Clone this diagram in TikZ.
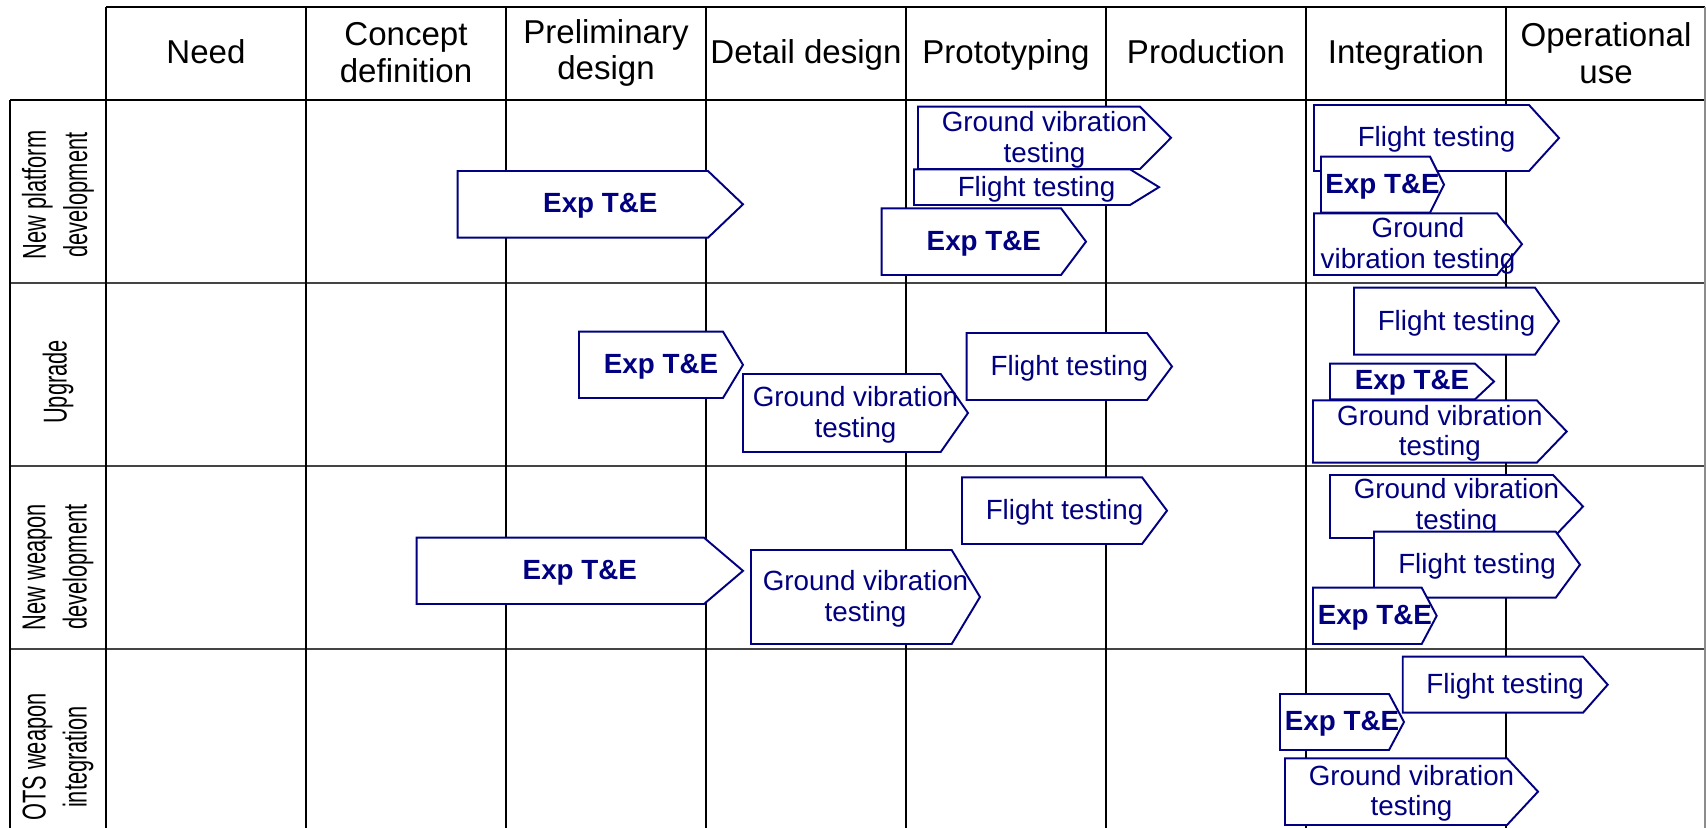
\documentclass[tikz,border=0pt]{standalone}
\usepackage{fontspec}
\setmainfont{Liberation Sans}
\newfontfamily\narrowfam[FakeStretch=0.66]{Liberation Sans}
\usepackage{xcolor}
\usepackage{tikz}
\definecolor{navy}{HTML}{000080}
\definecolor{rowgray}{HTML}{444444}
\newcommand\hdfont{\fontsize{9.4}{10.5}\selectfont}
\newcommand\bxfont{\fontsize{7.9}{8.7}\selectfont}
\newcommand\rlfont{\narrowfam\fontsize{9.4}{11.7}\selectfont}
\tikzset{
  grid/.style={draw=black, line width=0.8pt},
  rowline/.style={draw=rowgray, line width=0.75pt},
  edgeline/.style={draw=black!45, line width=0.5pt},
  tebox/.style={draw=navy, fill=white, line width=0.55pt, line join=miter},
  head/.style={font=\hdfont, align=center, text=black, inner sep=0pt},
  rowlab/.style={font=\rlfont, align=center, rotate=90, inner sep=0pt},
  boxlab/.style={font=\bxfont, text=navy, align=center, inner sep=0pt, yshift=-0.5pt},
  boxlabb/.style={boxlab, font=\bxfont\bfseries}
}
\begin{document}
\begin{tikzpicture}[x=0.01cm, y=-0.01cm]
  \useasboundingbox (0,0) rectangle (1706,828);

  % table lines
  \draw[grid] (106,7) -- (1705,7);
  \draw[grid] (10,100) -- (1705,100);
  \foreach \y in {283,466,649}
    \draw[rowline] (10,\y) -- (1705,\y);
  \draw[grid] (10,100) -- (10,828);
  \foreach \x in {106,306,506,706,906,1106,1306,1506}
    \draw[grid] (\x,7) -- (\x,828);
  \draw[edgeline] (1705,7) -- (1705,828);

  % phase headings
  \node[head] (hneed) at (206,56.5) {\strut Need};
  \node[head] (hconc) at (406,53) {Concept\\definition};
  \node[head] (hprel) at (606,53) {Preliminary\\design};
  \node[head] (hdet)  at (806,56.5) {\strut Detail design};
  \node[head] (hprot) at (1006,56.5) {\strut Prototyping};
  \node[head] (hprod) at (1206,56.5) {\strut Production};
  \node[head] (hint)  at (1406,56.5) {\strut Integration};
  \node[head] (hops)  at (1606,53) {Operational\\use};

  % programme types
  \node[rowlab] (rnew) at (58,195) {New platform\\development};
  \node[rowlab] (rupg) at (58,382) {Upgrade};
  \node[rowlab] (rwpn) at (58,567) {New weapon\\development};
  \node[rowlab] (rots) at (58,757) {OTS weapon\\integration};

  % new platform development
  \draw[tebox] (457.7,171) -- (708,171) -- (743,204.35) -- (708,237.7) -- (457.7,237.7) -- cycle;
  \node[boxlabb] (npexp) at (600.35,204.35) {Exp T\&E};
  \draw[tebox] (918,106.7) -- (1140,106.7) -- (1171,137.85) -- (1140,169) -- (918,169) -- cycle;
  \node[boxlab] (npgvt) at (1044.5,137.85) {Ground vibration\\testing};
  \draw[tebox] (914,169.3) -- (1130,169.3) -- (1159,187.15) -- (1130,205) -- (914,205) -- cycle;
  \node[boxlab] (npft) at (1036.5,187.15) {Flight testing};
  \draw[tebox] (881.7,208.3) -- (1061,208.3) -- (1086,241.65) -- (1061,275) -- (881.7,275) -- cycle;
  \node[boxlabb] (npexpb) at (983.85,241.65) {Exp T\&E};
  \draw[tebox] (1314,105) -- (1529,105) -- (1559,138) -- (1529,171) -- (1314,171) -- cycle;
  \node[boxlab] (npftb) at (1436.5,138) {Flight testing};
  \draw[tebox] (1321,156.7) -- (1430,156.7) -- (1444,184.7) -- (1430,212.7) -- (1321,212.7) -- cycle;
  \node[boxlabb] (npexpc) at (1382.5,184.7) {Exp T\&E};
  \draw[tebox] (1314,213.3) -- (1497,213.3) -- (1522,244.15) -- (1497,275) -- (1314,275) -- cycle;
  \node[boxlab] (npgvtb) at (1418,244.15) {Ground\\vibration testing};

  % upgrade
  \draw[tebox] (579,331.7) -- (723,331.7) -- (743,364.85) -- (723,398) -- (579,398) -- cycle;
  \node[boxlabb] (upexp) at (661,364.85) {Exp T\&E};
  \draw[tebox] (743,374) -- (940.7,374) -- (968,413) -- (940.7,452) -- (743,452) -- cycle;
  \node[boxlab] (upgvt) at (855.5,413) {Ground vibration\\testing};
  \draw[tebox] (966.7,333) -- (1147,333) -- (1172,366.5) -- (1147,400) -- (966.7,400) -- cycle;
  \node[boxlab] (upft) at (1069.35,366.5) {Flight testing};
  \draw[tebox] (1354,287.7) -- (1535,287.7) -- (1559,321.2) -- (1535,354.7) -- (1354,354.7) -- cycle;
  \node[boxlab] (upftb) at (1456.5,321.2) {Flight testing};
  \draw[tebox] (1330,363.7) -- (1475,363.7) -- (1494,381.5) -- (1475,399.3) -- (1330,399.3) -- cycle;
  \node[boxlabb] (upexpb) at (1412,381.5) {Exp T\&E};
  \draw[tebox] (1313,400.3) -- (1536.7,400.3) -- (1566.7,431.5) -- (1536.7,462.7) -- (1313,462.7) -- cycle;
  \node[boxlab] (upgvtb) at (1439.85,431.5) {Ground vibration\\testing};

  % new weapon development
  \draw[tebox] (416.7,537.7) -- (704,537.7) -- (743,570.85) -- (704,604) -- (416.7,604) -- cycle;
  \node[boxlabb] (nwexp) at (579.85,570.85) {Exp T\&E};
  \draw[tebox] (751,550) -- (951.7,550) -- (980,597) -- (951.7,644) -- (751,644) -- cycle;
  \node[boxlab] (nwgvt) at (865.5,597) {Ground vibration\\testing};
  \draw[tebox] (962,477.3) -- (1142,477.3) -- (1167,510.65) -- (1142,544) -- (962,544) -- cycle;
  \node[boxlab] (nwft) at (1064.5,510.65) {Flight testing};
  \draw[tebox] (1330,475) -- (1553,475) -- (1583,506.5) -- (1553,538) -- (1330,538) -- cycle;
  \node[boxlab] (nwgvtb) at (1456.5,505) {Ground vibration\\testing};
  \draw[tebox] (1374,531.7) -- (1555.7,531.7) -- (1580,564.7) -- (1555.7,597.7) -- (1374,597.7) -- cycle;
  \node[boxlab] (nwftb) at (1477,564.7) {Flight testing};
  \draw[tebox] (1313,587.7) -- (1421.7,587.7) -- (1436.7,615.85) -- (1421.7,644) -- (1313,644) -- cycle;
  \node[boxlabb] (nwexpb) at (1374.85,615.85) {Exp T\&E};

  % OTS weapon integration
  \draw[tebox] (1402.7,656.7) -- (1583,656.7) -- (1607.7,684.7) -- (1583,712.7) -- (1402.7,712.7) -- cycle;
  \node[boxlab] (otft) at (1505.2,684.7) {Flight testing};
  \draw[tebox] (1280,694) -- (1389,694) -- (1404,722) -- (1389,750) -- (1280,750) -- cycle;
  \node[boxlabb] (otexp) at (1342,722) {Exp T\&E};
  \draw[tebox] (1285,758.3) -- (1507,758.3) -- (1538,791.65) -- (1507,825) -- (1285,825) -- cycle;
  \node[boxlab] (otgvt) at (1411.5,791.65) {Ground vibration\\testing};
\end{tikzpicture}
\end{document}
